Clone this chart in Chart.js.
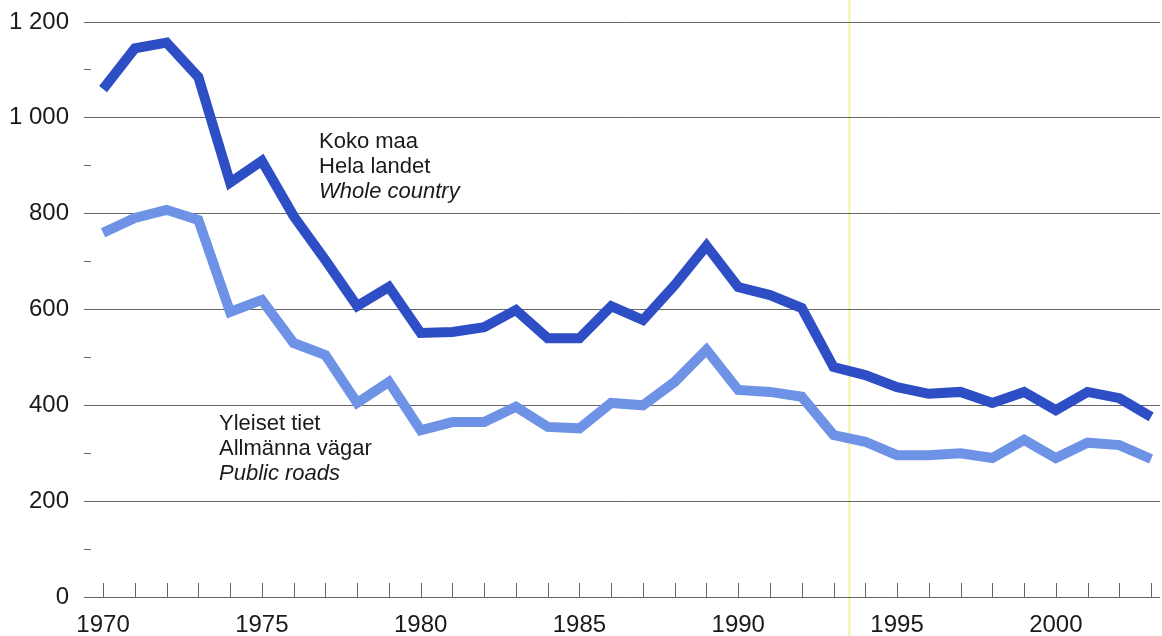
<!DOCTYPE html>
<html>
<head>
<meta charset="utf-8">
<script src="https://cdn.jsdelivr.net/npm/chart.js@4"></script>
<style>
  html, body { margin: 0; padding: 0; background: #fff; }
  #wrap { width: 1162px; height: 636px; }
</style>
</head>
<body>
<div id="wrap"><canvas id="chart-tiet"></canvas></div>
<script>
const years = [1970, 1971, 1972, 1973, 1974, 1975, 1976, 1977, 1978, 1979,
  1980, 1981, 1982, 1983, 1984, 1985, 1986, 1987, 1988, 1989,
  1990, 1991, 1992, 1993, 1994, 1995, 1996, 1997, 1998, 1999,
  2000, 2001, 2002, 2003]

const kokoMaa = [1060, 1145, 1157, 1085, 865, 910, 795, 703, 607, 647,
  551, 553, 563, 599, 540, 540, 607, 578, 651, 733,
  647, 630, 603, 480, 463, 438, 424, 428, 405, 428,
  390, 428, 415, 376]

const yleisetTiet = [760, 791, 808, 787, 595, 620, 530, 505, 405, 449,
  348, 365, 365, 397, 355, 352, 405, 400, 449, 516,
  432, 428, 418, 338, 324, 296, 296, 300, 290, 328,
  290, 322, 317, 288]

const yearLabels = [1970, 1975, 1980, 1985, 1990, 1995, 2000]
const markerYear = 1993.5

const tumma = '#2d4ec4'
const vaalea = '#6e93e6'
const harmaa = '#666666'
const fontti = 'Arial, "Liberation Sans", sans-serif'

// label text: [x year, y value of first baseline, lines]
const tekstit = [
  { x: 1976.80, y: 937, lines: [['Koko maa', false], ['Hela landet', false], ['Whole country', true]] },
  { x: 1973.65, y: 348, lines: [['Yleiset tiet', false], ['Allmänna vägar', false], ['Public roads', true]] }
]

function tuhannet(v) {
  return String(v).replace(/\B(?=(\d{3})+(?!\d))/g, ' ')
}

const koristeet = {
  id: 'koristeet',
  beforeDraw(chart) {
    const ctx = chart.ctx
    const x = chart.scales.x.getPixelForValue(markerYear)
    ctx.save()
    ctx.strokeStyle = '#f4f0a8'
    ctx.lineWidth = 2
    ctx.beginPath()
    ctx.moveTo(x, 0)
    ctx.lineTo(x, chart.height)
    ctx.stroke()
    ctx.restore()
  },
  afterDraw(chart) {
    const ctx = chart.ctx
    const xs = chart.scales.x
    const ys = chart.scales.y
    const y0 = ys.getPixelForValue(0)
    ctx.save()
    ctx.strokeStyle = harmaa
    ctx.lineWidth = 1
    for (let i = 0; i < years.length; i++) {
      const px = Math.round(xs.getPixelForValue(years[i])) + 0.5
      ctx.beginPath()
      ctx.moveTo(px, y0)
      ctx.lineTo(px, y0 - 14)
      ctx.stroke()
    }
    ctx.fillStyle = '#1a1a1a'
    ctx.textBaseline = 'alphabetic'
    ctx.textAlign = 'left'
    for (let t of tekstit) {
      const px = xs.getPixelForValue(t.x)
      const py = ys.getPixelForValue(t.y)
      t.lines.forEach((l, j) => {
        ctx.font = (l[1] ? 'italic ' : '') + '22px ' + fontti
        ctx.fillText(l[0], px, py + j * 25)
      })
    }
    ctx.restore()
  }
}

const chartTiet = new Chart(document.getElementById('chart-tiet'), {
  type: 'line',
  data: {
    labels: years,
    datasets: [{
      label: 'Koko maa',
      data: kokoMaa,
      borderColor: tumma,
      backgroundColor: tumma,
      borderWidth: 10,
      pointRadius: 0,
      tension: 0
    }, {
      label: 'Yleiset tiet',
      data: yleisetTiet,
      borderColor: vaalea,
      backgroundColor: vaalea,
      borderWidth: 10,
      pointRadius: 0,
      tension: 0
    }]
  },
  options: {
    responsive: true,
    maintainAspectRatio: false,
    animation: false,
    layout: { padding: { top: 22, right: 2, left: 0, bottom: 0 } },
    plugins: {
      legend: { display: false },
      tooltip: { enabled: false }
    },
    scales: {
      x: {
        type: 'linear',
        min: 1969.62,
        max: 2003.28,
        afterBuildTicks: (scale) => { scale.ticks = yearLabels.map(v => ({ value: v })) },
        afterFit: (scale) => { scale.height = 39 },
        grid: { display: false, drawTicks: false },
        border: { display: false },
        ticks: {
          color: '#1a1a1a',
          font: { family: fontti, size: 24 },
          padding: 14,
          maxRotation: 0,
          autoSkip: false,
          callback: (v) => String(v)
        }
      },
      y: {
        min: 0,
        max: 1200,
        afterFit: (scale) => {
          scale.width = 91
          scale.paddingTop = 0
          scale.paddingBottom = 0
        },
        border: { display: false },
        grid: {
          color: (c) => (c.tick.value % 200 === 0 ? harmaa : 'rgba(0,0,0,0)'),
          tickColor: harmaa,
          tickLength: 7,
          drawTicks: true,
          lineWidth: 1
        },
        ticks: {
          stepSize: 100,
          color: '#1a1a1a',
          font: { family: fontti, size: 24 },
          padding: 15,
          callback: (v) => (v % 200 === 0 ? tuhannet(v) : '')
        }
      }
    }
  },
  plugins: [koristeet]
})
</script>
</body>
</html>
